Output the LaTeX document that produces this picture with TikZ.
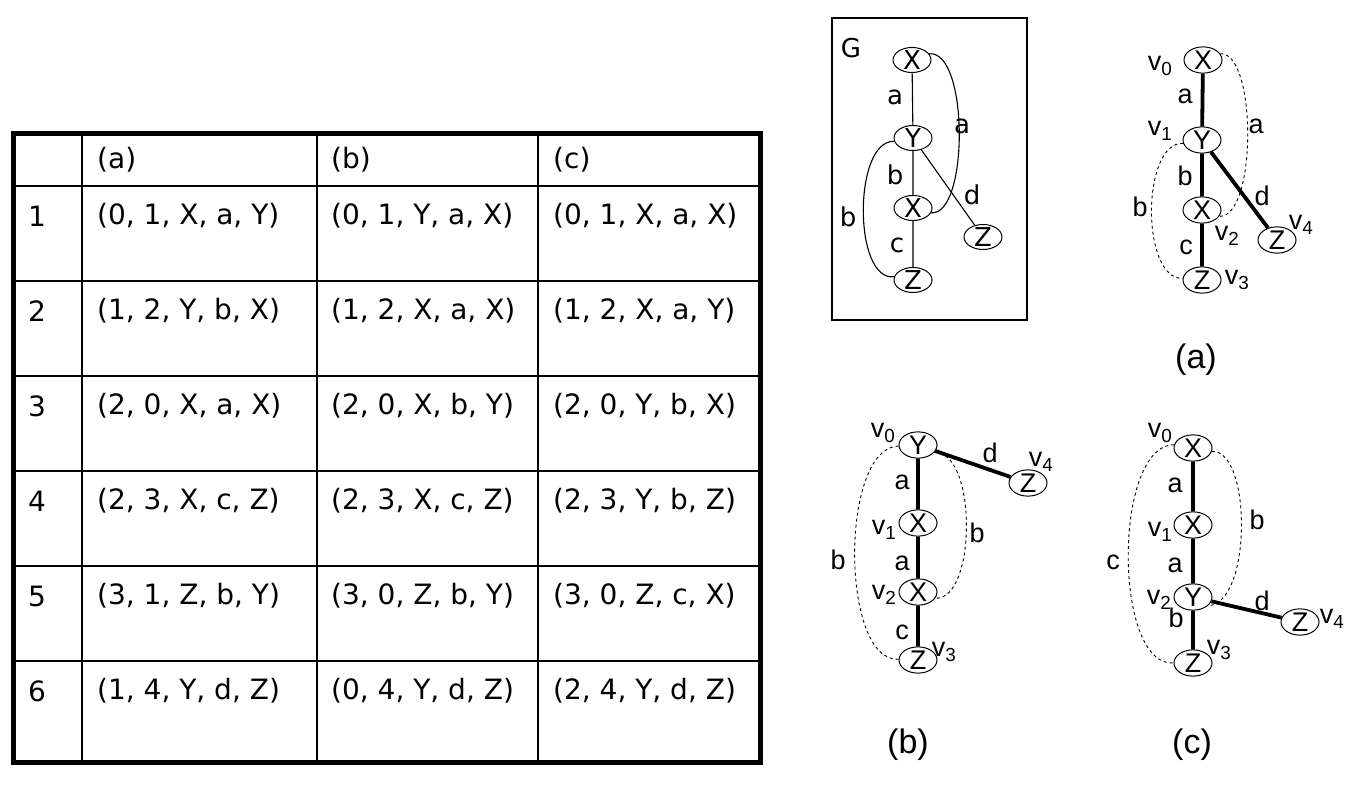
\documentclass[tikz,border=0pt]{standalone}
\usepackage{fontspec}
\setmainfont{Liberation Sans}
\newfontfamily\tabfont{DejaVu Sans}
\usetikzlibrary{shapes.geometric}
\newcommand{\vsub}[1]{v\textsubscript{#1}}

\begin{document}
\begin{tikzpicture}[x=1pt,y=-1pt,
    vtx/.style={ellipse,draw,line width=1pt,minimum width=38pt,minimum height=25pt,inner sep=-2.5pt},
    gfont/.style={font=\tabfont\fontsize{26}{28}\selectfont},
    lbl/.style={font=\fontsize{27}{29}\selectfont,inner sep=0pt},
    capt/.style={font=\fontsize{34}{36}\selectfont,inner sep=0pt},
    cell/.style={anchor=west,font=\tabfont\fontsize{28}{30}\selectfont,inner sep=0pt},
    tree/.style={line width=3.8pt},
    back/.style={dashed,line width=0.9pt},
    gedge/.style={line width=1.1pt}]
    \useasboundingbox (0,0) rectangle (1350,794);

    % table
    \foreach \x in {82,317,538}
      \draw[line width=1.8pt] (\x,134) -- (\x,762);
    \foreach \y in {186,281,376,471,566,661}
      \draw[line width=1.8pt] (13,\y) -- (760,\y);
    \draw[line width=5pt] (13,134) rectangle (760,762);
    \node[cell] (ha) at (97,160) {(a)};
    \node[cell] (hb) at (331,160) {(b)};
    \node[cell] (hc) at (553,160) {(c)};
    \foreach \r/\ca/\cb/\cc [evaluate=\r as \ry using 216+95*(\r-1)] in {
        1/{(0, 1, X, a, Y)}/{(0, 1, Y, a, X)}/{(0, 1, X, a, X)},
        2/{(1, 2, Y, b, X)}/{(1, 2, X, a, X)}/{(1, 2, X, a, Y)},
        3/{(2, 0, X, a, X)}/{(2, 0, X, b, Y)}/{(2, 0, Y, b, X)},
        4/{(2, 3, X, c, Z)}/{(2, 3, X, c, Z)}/{(2, 3, Y, b, Z)},
        5/{(3, 1, Z, b, Y)}/{(3, 0, Z, b, Y)}/{(3, 0, Z, c, X)},
        6/{(1, 4, Y, d, Z)}/{(0, 4, Y, d, Z)}/{(2, 4, Y, d, Z)}} {
      \node[cell] (tn\r) at (28,\ry) {\r};
      \node[cell] (ta\r) at (97,\ry) {\ca};
      \node[cell] (tb\r) at (331,\ry) {\cb};
      \node[cell] (tc\r) at (553,\ry) {\cc};
    }

    % graph G
    \draw[gedge] (832,18) rectangle (1027,320);
    \node[gfont] (glab) at (851,48) {G};
    \node[vtx,gfont] (gx0) at (912,60) {X};
    \node[vtx,gfont] (gy1) at (913,138) {Y};
    \node[vtx,gfont] (gx2) at (913,208) {X};
    \node[vtx,gfont] (gz3) at (913,280) {Z};
    \node[vtx,gfont] (gz4) at (983,237) {Z};
    \draw[gedge] (gx0) -- (gy1) (gy1) -- (gx2) (gx2) -- (gz3) (gy1) -- (gz4);
    \draw[gedge] (gx0.20) .. controls (969,50) and (969,216) .. (gx2.-15);
    \draw[gedge] (gy1.190) .. controls (853,140) and (853,282) .. (gz3.170);
    \node[gfont] (ge1) at (895,97) {a};
    \node[gfont] (ge2) at (962,126) {a};
    \node[gfont] (ge3) at (895,175) {b};
    \node[gfont] (ge4) at (972,195) {d};
    \node[gfont] (ge5) at (848,217) {b};
    \node[gfont] (ge6) at (897,245) {c};

    % graph (a)
    \node[vtx,lbl] (a0) at (1203,60) {X};
    \node[vtx,lbl] (a1) at (1202,140) {Y};
    \node[vtx,lbl] (a2) at (1202,210) {X};
    \node[vtx,lbl] (a3) at (1202,280) {Z};
    \node[vtx,lbl] (a4) at (1277,240) {Z};
    \draw[tree] (a0) -- (a1) (a1) -- (a2) (a2) -- (a3) (a1) -- (a4);
    \draw[back] (a0.20) .. controls (1257,52) and (1257,218) .. (a2.-20);
    \draw[back] (a1.190) .. controls (1141,142) and (1141,280) .. (a3.175);
    \node[lbl] (av0) at (1160,66) {\vsub{0}};
    \node[lbl] (av1) at (1160,131) {\vsub{1}};
    \node[lbl] (av2) at (1227,236) {\vsub{2}};
    \node[lbl] (av3) at (1237,280) {\vsub{3}};
    \node[lbl] (av4) at (1301,225) {\vsub{4}};
    \node[lbl] (ae1) at (1185,96) {a};
    \node[lbl] (ae2) at (1256,126) {a};
    \node[lbl] (ae3) at (1185,176) {b};
    \node[lbl] (ae4) at (1140,207) {b};
    \node[lbl] (ae5) at (1262,196) {d};
    \node[lbl] (ae6) at (1186,247) {c};
    \node[capt] (capa) at (1196,360) {(a)};

    % graph (b)
    \node[vtx,lbl] (b0) at (918,445) {Y};
    \node[vtx,lbl] (b1) at (918,523) {X};
    \node[vtx,lbl] (b2) at (918,592) {X};
    \node[vtx,lbl] (b3) at (918,660) {Z};
    \node[vtx,lbl] (b4) at (1028,483) {Z};
    \draw[tree] (b0) -- (b1) (b1) -- (b2) (b2) -- (b3) (b0) -- (b4);
    \draw[back] (b0.183) .. controls (840,447) and (840,662) .. (b3.178);
    \draw[back] (b0.-25) .. controls (977,450) and (977,600) .. (b2.-20);
    \node[lbl] (bv0) at (883,433) {\vsub{0}};
    \node[lbl] (bv1) at (884,530) {\vsub{1}};
    \node[lbl] (bv2) at (884,595) {\vsub{2}};
    \node[lbl] (bv3) at (944,652) {\vsub{3}};
    \node[lbl] (bv4) at (1041,462) {\vsub{4}};
    \node[lbl] (be1) at (902,482) {a};
    \node[lbl] (be2) at (990,453) {d};
    \node[lbl] (be3) at (977,533) {b};
    \node[lbl] (be4) at (902,563) {a};
    \node[lbl] (be5) at (838,560) {b};
    \node[lbl] (be6) at (902,632) {c};
    \node[capt] (capb) at (908,745) {(b)};

    % graph (c)
    \node[vtx,lbl] (c0) at (1193,448) {X};
    \node[vtx,lbl] (c1) at (1193,525) {X};
    \node[vtx,lbl] (c2) at (1193,597) {Y};
    \node[vtx,lbl] (c3) at (1193,663) {Z};
    \node[vtx,lbl] (c4) at (1300,622) {Z};
    \draw[tree] (c0) -- (c1) (c1) -- (c2) (c2) -- (c3) (c2) -- (c4);
    \draw[back] (c0.170) .. controls (1113,445) and (1113,667) .. (c3.180);
    \draw[back] (c0.-10) .. controls (1252,450) and (1252,604) .. (c2.-30);
    \node[lbl] (cv0) at (1160,433) {\vsub{0}};
    \node[lbl] (cv1) at (1160,532) {\vsub{1}};
    \node[lbl] (cv2) at (1159,600) {\vsub{2}};
    \node[lbl] (cv3) at (1219,650) {\vsub{3}};
    \node[lbl] (cv4) at (1332,619) {\vsub{4}};
    \node[lbl] (ce1) at (1175,485) {a};
    \node[lbl] (ce2) at (1257,520) {b};
    \node[lbl] (ce3) at (1113,562) {c};
    \node[lbl] (ce4) at (1175,565) {a};
    \node[lbl] (ce5) at (1262,601) {d};
    \node[lbl] (ce6) at (1176,618) {b};
    \node[capt] (capc) at (1192,745) {(c)};
  \end{tikzpicture}
\end{document}
